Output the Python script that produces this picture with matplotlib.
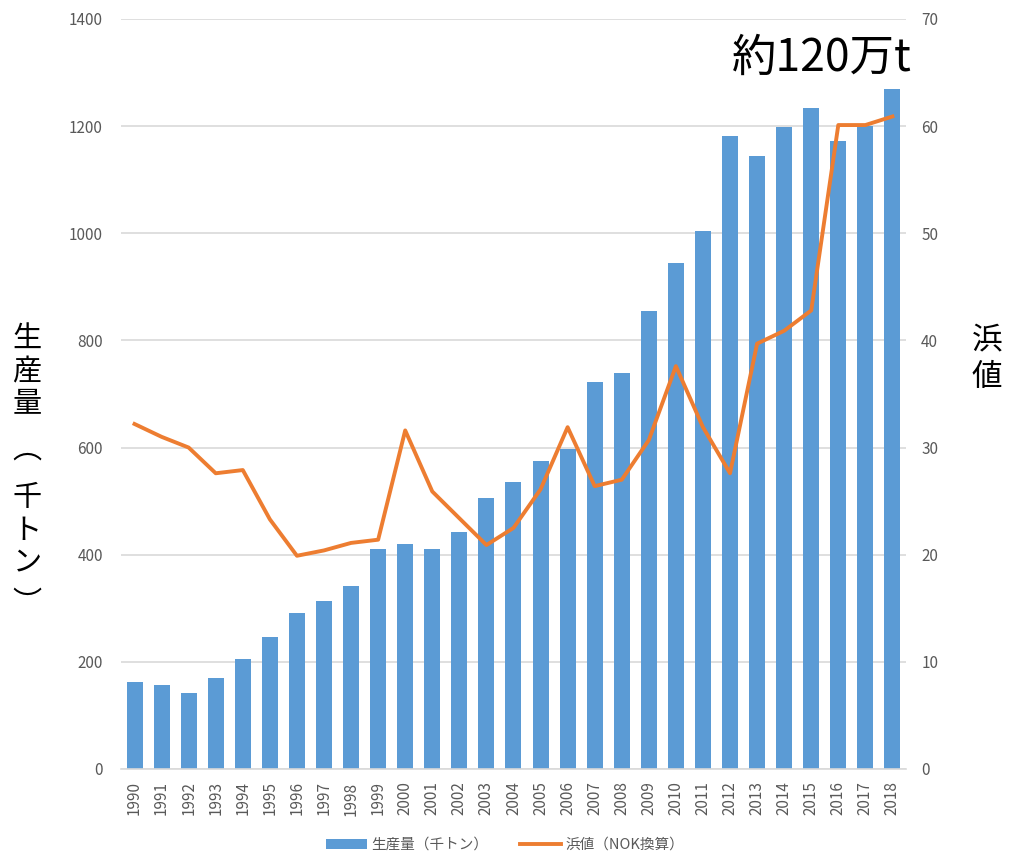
import matplotlib
matplotlib.use("Agg")
import matplotlib.pyplot as plt
from matplotlib.lines import Line2D
from matplotlib.patches import Patch

plt.rcParams['font.family'] = ['Noto Sans CJK JP', 'DejaVu Sans']

years = [str(y) for y in range(1990, 2019)]
production = [163, 156, 141, 169, 206, 247, 292, 314, 342, 410, 420, 410, 443, 506,
              536, 574, 598, 723, 739, 855, 945, 1005, 1181, 1144, 1198, 1233, 1172,
              1200, 1269]
price = [32.2, 31.0, 30.0, 27.6, 27.9, 23.3, 19.9, 20.4, 21.1, 21.4, 31.6, 25.9, 23.4,
         20.9, 22.5, 26.1, 31.9, 26.4, 27.0, 30.7, 37.6, 31.9, 27.6, 39.7, 40.9, 42.8,
         60.1, 60.1, 60.9]

BLUE = '#5B9BD5'
ORANGE = '#ED7D31'
GRID = '#D9D9D9'
TICK = '#595959'

fig = plt.figure(figsize=(10.1, 8.55), dpi=100)
ax = fig.add_axes([0.1198, 0.1006, 0.7772, 0.8772])
x = list(range(len(years)))

ax.bar(x, production, width=0.59, color=BLUE, zorder=2)
ax.set_xlim(-0.5, len(years) - 0.5)
ax.set_ylim(0, 1400)
ax.set_yticks(range(0, 1401, 200))
ax.set_xticks(x)
ax.set_xticklabels(years, rotation=90)
ax.grid(axis='y', color=GRID, linewidth=1.2, zorder=0)
ax.set_axisbelow(True)
for s in ['top', 'left', 'right']:
    ax.spines[s].set_visible(False)
ax.spines['bottom'].set_color(GRID)
ax.spines['bottom'].set_linewidth(1.2)
ax.tick_params(axis='y', length=0, pad=13, labelsize=11, labelcolor=TICK)
ax.tick_params(axis='x', length=0, pad=9, labelsize=11, labelcolor=TICK)

ax2 = ax.twinx()
ax2.plot(x, price, color=ORANGE, linewidth=2.8, solid_joinstyle='round')
ax2.set_ylim(0, 70)
ax2.set_yticks(range(0, 71, 10))
for s in ['top', 'left', 'right', 'bottom']:
    ax2.spines[s].set_visible(False)
ax2.tick_params(axis='y', length=0, pad=11, labelsize=11, labelcolor=TICK)

# vertical (tategaki) axis titles
left_chars = ['生', '産', '量', '︵', '千', 'ト', 'ン', '︶']
left_ys = [339, 372, 404, 450, 498, 531, 562, 604]
for ch, yy in zip(left_chars, left_ys):
    fig.text(27 / 1010, 1 - yy / 855, ch, fontsize=21, ha='center', va='center')
for ch, yy in zip(['浜', '値'], [340, 377]):
    fig.text(987 / 1010, 1 - yy / 855, ch, fontsize=22, ha='center', va='center')

fig.text(732 / 1010, 1 - 58 / 855, '約120万t', fontsize=32, ha='left', va='center')

handles = [Patch(facecolor=BLUE), Line2D([0], [0], color=ORANGE, linewidth=2.8)]
labels = ['生産量（千トン）', '浜値（NOK換算）']
fig.legend(handles, labels, loc='center', bbox_to_anchor=(0.5, 1 - 845 / 855), ncol=2,
           frameon=False, fontsize=10.5, labelcolor=TICK, handlelength=2.8,
           handletextpad=0.3, columnspacing=2.2)

fig.savefig('out.png', dpi=100)
